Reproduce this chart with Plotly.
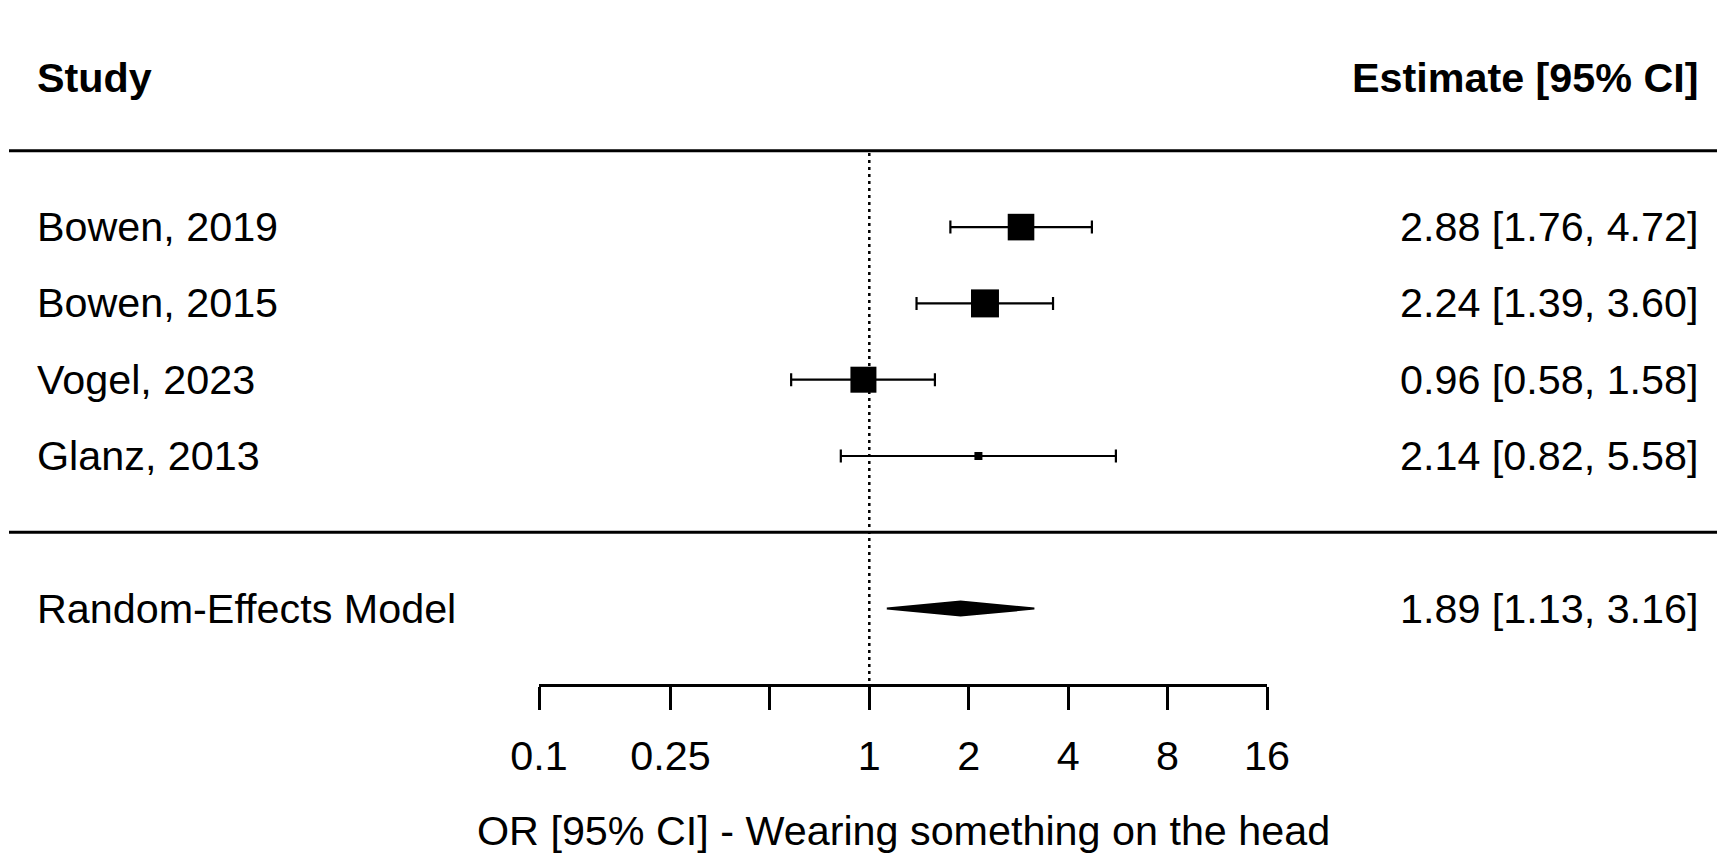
import math
import plotly.graph_objects as go

# ---------------- data ----------------
studies = ["Bowen, 2019", "Bowen, 2015", "Vogel, 2023", "Glanz, 2013"]
est = [2.88, 2.24, 0.96, 2.14]
ci_lo = [1.76, 1.39, 0.58, 0.82]
ci_hi = [4.72, 3.60, 1.58, 5.58]

model_label = "Random-Effects Model"
model_est = 1.89
model_lo = 1.13
model_hi = 3.16

tick_vals = [0.1, 0.25, 0.5, 1, 2, 4, 8, 16]
tick_text = ["0.1", "0.25", "", "1", "2", "4", "8", "16"]

header_left = "Study"
header_right = "Estimate [95% CI]"
x_title = "OR [95% CI] - Wearing something on the head"

# ---------------- layout helpers ----------------
W, H = 1717, 855
FONT = "Liberation Sans, Arial, sans-serif"
FS = 41.3

k = len(studies)
rows = list(range(k, 0, -1))          # study rows k..1
model_row = -1
header_row = k + 2 - 0.04
top_sep = k + 1
bottom_sep = 0
axis_row = -2

# y mapping: row 1 at 456 px, 76.3 px per row
row_px = 76.3
y_max = 1 + 456 / row_px
y_min = 1 - (H - 456) / row_px

# marker sizes from precision (metafor-like scaling)
prec = [1 / ((math.log(h) - math.log(l)) / 3.92) for l, h in zip(ci_lo, ci_hi)]
pmin, pmax = min(prec), max(prec)
sizes = [8 + 20 * (p - pmin) / (pmax - pmin) for p in prec]

fig = go.Figure()

# study estimates with CIs
fig.add_trace(go.Scatter(
    x=est, y=rows, mode="markers",
    marker=dict(symbol="square", size=sizes, color="black", opacity=1,
                line=dict(width=0)),
    error_x=dict(type="data", symmetric=False,
                 array=[h - e for h, e in zip(ci_hi, est)],
                 arrayminus=[e - l for e, l in zip(est, ci_lo)],
                 color="black", thickness=2.2, width=6.5),
    showlegend=False, hoverinfo="skip", cliponaxis=False,
))

# summary diamond
dh = 0.092
fig.add_trace(go.Scatter(
    x=[model_lo, model_est, model_hi, model_est, model_lo],
    y=[model_row, model_row + dh, model_row, model_row - dh, model_row],
    mode="lines", fill="toself", fillcolor="black",
    line=dict(color="black", width=2),
    showlegend=False, hoverinfo="skip", cliponaxis=False,
))

shapes = []
for yy in (top_sep, bottom_sep):
    shapes.append(dict(type="line", xref="paper", yref="y",
                       x0=9 / W, x1=1, y0=yy, y1=yy,
                       line=dict(color="black", width=3)))
# reference line at 1
shapes.append(dict(type="line", xref="x", yref="y", x0=1, x1=1,
                   y0=top_sep - 0.03, y1=axis_row,
                   line=dict(color="black", width=2.5, dash="3px,4px")))

annotations = []
def txt(x, y, s, anchor, bold=False, xref="paper"):
    annotations.append(dict(
        x=x, y=y, xref=xref, yref="y", text=f"<b>{s}</b>" if bold else s,
        showarrow=False, xanchor=anchor, yanchor="middle", borderpad=0,
        font=dict(family=FONT, size=FS, color="black")))

left_x = 36 / W
right_x = 1700 / W
txt(left_x, header_row, header_left, "left", bold=True)
txt(right_x, header_row, header_right, "right", bold=True)
for r, s, e, l, h in zip(rows, studies, est, ci_lo, ci_hi):
    txt(left_x, r, s, "left")
    txt(right_x, r, f"{e:.2f} [{l:.2f}, {h:.2f}]", "right")
txt(left_x, model_row, model_label, "left")
txt(right_x, model_row, f"{model_est:.2f} [{model_lo:.2f}, {model_hi:.2f}]", "right")
# x-axis title
annotations.append(dict(
    x=0.5, y=-3.92, xref="x domain", yref="y", text=x_title,
    showarrow=False, xanchor="center", yanchor="middle", borderpad=0,
    font=dict(family=FONT, size=FS, color="black")))

x_left_px, x_right_px = 539, 1267
fig.update_layout(
    template="none",
    width=W, height=H,
    autosize=False,
    margin=dict(l=0, r=0, t=0, b=0, pad=0, autoexpand=False),
    paper_bgcolor="white", plot_bgcolor="white",
    showlegend=False,
    font=dict(family=FONT, size=FS, color="black"),
    shapes=shapes, annotations=annotations,
    xaxis=dict(
        type="log",
        domain=[x_left_px / W, x_right_px / W],
        range=[math.log10(tick_vals[0]), math.log10(tick_vals[-1])],
        anchor="free",
        position=(axis_row - y_min) / (y_max - y_min),
        automargin=False,
        showgrid=False, zeroline=False,
        showline=True, linecolor="black", linewidth=2.5,
        ticks="outside", ticklen=23, tickwidth=2.5, tickcolor="black",
        tickmode="array", tickvals=tick_vals, ticktext=tick_text,
        tickfont=dict(family=FONT, size=FS, color="black"),
        ticklabelstandoff=11,
        fixedrange=True,
    ),
    yaxis=dict(range=[y_min, y_max], visible=False, fixedrange=True,
               automargin=False, showgrid=False, zeroline=False),
)

fig.write_html(
    "out.html",
    config={"displayModeBar": False},
    post_script="document.body.style.margin='0';document.body.style.overflow='hidden';",
)
